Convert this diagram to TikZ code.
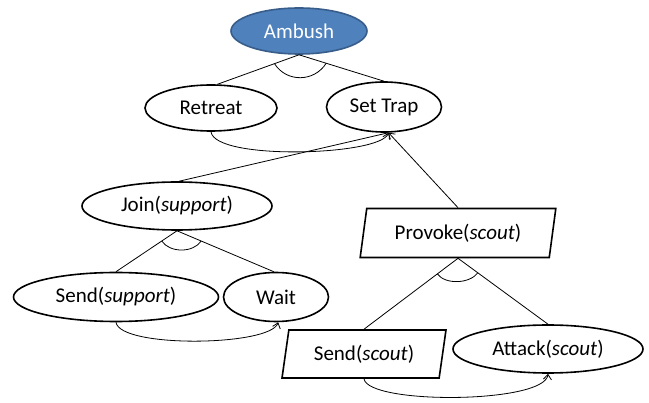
\documentclass[tikz,border=0pt]{standalone}
\usepackage{fontspec}
\setmainfont{Carlito}
\usetikzlibrary{shapes.geometric,arrows.meta,calc}

\definecolor{goalblue}{HTML}{4F81BD}
\definecolor{goalline}{HTML}{385D8A}

\begin{document}
\begin{tikzpicture}[x=1pt,y=1pt,
    font=\fontsize{21}{25}\selectfont,
    goal/.style={ellipse,draw,line width=1.6pt,fill=white,minimum width=#1,minimum height=48pt,inner sep=0pt},
    act/.style={trapezium,trapezium left angle=76,trapezium right angle=104,trapezium stretches=true,
                draw,line width=1.6pt,fill=white,minimum width=#1,minimum height=48pt,inner sep=0pt},
    link/.style={line width=0.8pt},
    order/.style={line width=0.8pt,-{Straight Barb[length=5pt,width=8pt]}}]
    \useasboundingbox (0,0) rectangle (649,-403);

    % 节点
    \node[goal=136,fill=goalblue,draw=goalline,text=white,minimum height=46pt] (ambush) at (299,-31) {Ambush};
    \node[goal=132,minimum height=46pt] (retreat) at (211,-108) {Retreat};
    \node[goal=115,minimum height=50pt] (settrap) at (384,-107) {Set Trap};
    \node[goal=190] (join) at (177,-206) {Join(\textit{support})};
    \node[goal=205,minimum height=49pt] (sendsup) at (116,-297) {Send(\textit{support})};
    \node[goal=105,minimum height=49pt] (wait) at (276,-297) {Wait};
    \node[act=196,minimum height=49pt] (provoke) at (458,-233) {Provoke(\textit{scout})};
    \node[act=164] (sendscout) at (364,-354) {Send(\textit{scout})};
    \node[goal=190] (attack) at (548,-349) {Attack(\textit{scout})};

    % 分解
    \draw[link] (ambush.south) -- (retreat.75);
    \draw[link] (ambush.south) -- (settrap.north);
    \draw[link] ($(ambush.south)!0.3!(retreat.75)$) .. controls +(12,-19) and +(-12,-19) .. ($(ambush.south)!0.32!(settrap.north)$);

    \draw[link] (join.south) -- (sendsup.north);
    \draw[link] (join.south) -- (wait.95);
    \draw[link] ($(join.south)!0.25!(sendsup.north)$) .. controls +(8,-12) and +(-8,-12) .. ($(join.south)!0.25!(wait.95)$);

    \draw[link] (provoke.south) -- (sendscout.north);
    \draw[link] (provoke.south) -- (attack.north);
    \draw[link] ($(provoke.south)!0.22!(sendscout.north)$) .. controls +(8,-11) and +(-8,-11) .. ($(provoke.south)!0.22!(attack.north)$);

    \draw[link] (settrap.-80) -- (join.85);
    \draw[order] (provoke.north) -- (settrap.-80);

    % 顺序约束
    \draw[order] (retreat.south) .. controls +(4,-29) and +(-8,-23) .. (settrap.-80);
    \draw[order] (sendsup.south) .. controls +(4,-26) and +(-8,-24) .. (wait.-85);
    \draw[order] (sendscout.south) .. controls +(4,-26) and +(-3,-30) .. (attack.south);
\end{tikzpicture}
\end{document}
